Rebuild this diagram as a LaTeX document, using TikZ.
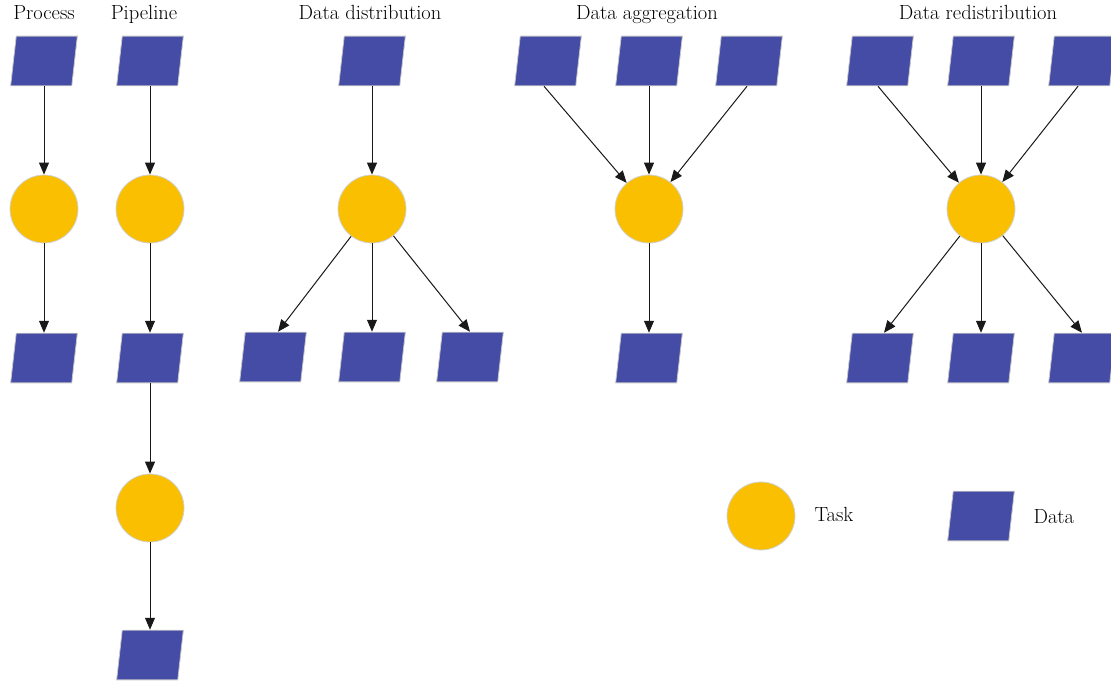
\documentclass[tikz,border=0pt]{standalone}
\usetikzlibrary{arrows.meta,calc}
\definecolor{datablue}{RGB}{68,76,166}
\definecolor{taskorange}{RGB}{249,191,0}
\begin{document}
\begin{tikzpicture}[x=1pt,y=-1pt,
  data/.style={minimum width=67.5pt, minimum height=50.5pt, inner sep=0pt, outer sep=0pt,
    path picture={\path[fill=datablue,draw=black!22,line width=0.8pt]
      ([xshift=0.4pt,yshift=0.4pt]path picture bounding box.south west) --
      ([xshift=-6pt,yshift=0.4pt]path picture bounding box.south east) --
      ([xshift=-0.4pt,yshift=-0.4pt]path picture bounding box.north east) --
      ([xshift=6pt,yshift=-0.4pt]path picture bounding box.north west) -- cycle;}},
  task/.style={circle, minimum size=68pt, inner sep=0pt, fill=taskorange, draw=black!18, line width=0.8pt},
  conn/.style={-{Triangle[length=12pt,width=10pt]}, line width=1pt, black!90},
  title/.style={font=\fontsize{20.5}{24}\selectfont, anchor=base},
  lbl/.style={font=\fontsize{20.5}{24}\selectfont, anchor=west}
]
\useasboundingbox (0,0) rectangle (1111,682);
% titles
\node[title] (tP) at (44,20) {Process};
\node[title] (tPi) at (144,20) {Pipeline};
\node[title] (tD) at (370,20) {Data distribution};
\node[title] (tA) at (647,20) {Data aggregation};
\node[title] (tR) at (978,20) {Data redistribution};
% Process
\node[data] (p1) at (44,61) {};
\node[task] (pc) at (44,209) {};
\node[data] (p2) at (44,358) {};
\draw[conn] (p1) -- (pc);
\draw[conn] (pc) -- (p2);
% Pipeline
\node[data] (q1) at (150,61) {};
\node[task] (qc1) at (150,209) {};
\node[data] (q2) at (150,358) {};
\node[task] (qc2) at (150,508) {};
\node[data] (q3) at (150,655) {};
\draw[conn] (q1) -- (qc1);
\draw[conn] (qc1) -- (q2);
\draw[conn] (q2) -- (qc2);
\draw[conn] (qc2) -- (q3);
% Distribution
\node[data] (d0) at (372,61) {};
\node[task] (dc) at (372,209) {};
\node[data] (d1) at (273,357) {};
\node[data] (d2) at (372,357) {};
\node[data] (d3) at (470,357) {};
\draw[conn] (d0) -- (dc);
\draw[conn] (dc) -- ([xshift=5pt]d1.north);
\draw[conn] (dc) -- (d2.north);
\draw[conn] (dc) -- ([xshift=0pt]d3.north);
% Aggregation
\node[data] (a1) at (548,61) {};
\node[data] (a2) at (649,61) {};
\node[data] (a3) at (749,61) {};
\node[task] (ac) at (649,209) {};
\node[data] (a4) at (649,358) {};
\draw[conn] ([xshift=-4pt]a1.south) -- (ac);
\draw[conn] (a2) -- (ac);
\draw[conn] ([xshift=-2pt]a3.south) -- (ac);
\draw[conn] (ac) -- (a4);
% Redistribution
\node[data] (r1) at (880,61) {};
\node[data] (r2) at (981,61) {};
\node[data] (r3) at (1082,61) {};
\node[task] (rc) at (981,209) {};
\node[data] (r4) at (880,358) {};
\node[data] (r5) at (981,358) {};
\node[data] (r6) at (1082,358) {};
\draw[conn] ([xshift=-2pt]r1.south) -- (rc);
\draw[conn] (r2) -- (rc);
\draw[conn] ([xshift=-4pt]r3.south) -- (rc);
\draw[conn] (rc) -- ([xshift=4pt]r4.north);
\draw[conn] (rc) -- (r5.north);
\draw[conn] (rc) -- (r6.north);
% Legend
\node[task] (lt) at (761,516) {};
\node[lbl] (ltl) at (811,514) {Task};
\node[data] (ld) at (981,516) {};
\node[lbl] (ldl) at (1030,517) {Data};
\end{tikzpicture}
\end{document}
